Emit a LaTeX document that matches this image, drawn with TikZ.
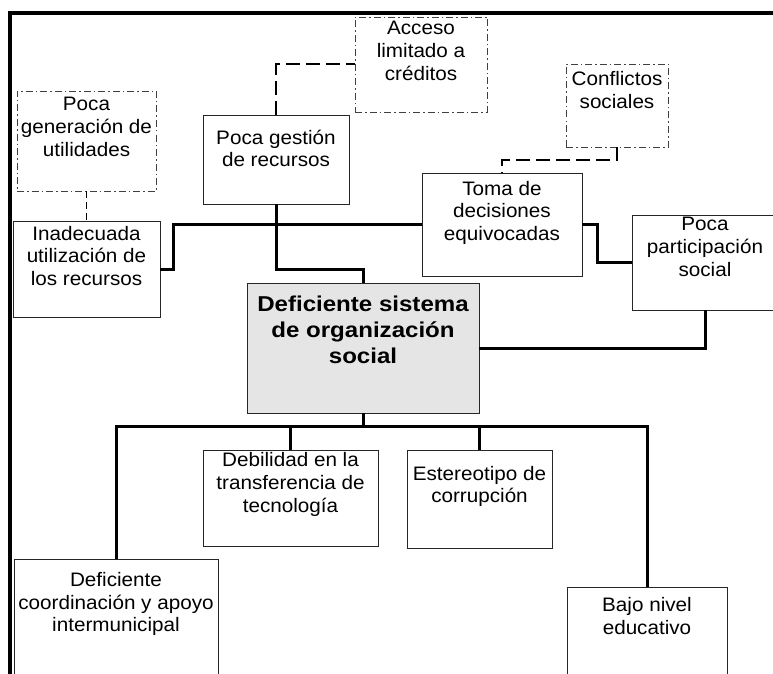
\documentclass[tikz,border=0pt]{standalone}
\usepackage{fontspec}
\setmainfont[FakeStretch=1.06]{Liberation Sans}
\newfontfamily\widebold[FakeStretch=1.12]{Liberation Sans}

\tikzset{
  box/.style n args={2}{draw=black!85, line width=0.9pt, rectangle, inner sep=0pt,
    minimum width=#1, minimum height=#2},
  dashbox/.style n args={2}{box={#1}{#2}, draw=black!75, line width=0.8pt,
    dash pattern=on 7pt off 3pt on 1.5pt off 3pt},
  mainbox/.style n args={2}{box={#1}{#2}, fill=gray!20},
  txt/.style={inner sep=0pt, align=center, anchor=north,
    font=\fontsize{19.5}{22.7}\selectfont,
    execute at begin node={\rule{0pt}{16pt}}},
  maintxt/.style={inner sep=0pt, align=center, anchor=north,
    font=\widebold\bfseries\fontsize{21.5}{26}\selectfont,
    execute at begin node={\rule{0pt}{18pt}}},
  link/.style={line width=3pt, black},
  dashlink/.style={line width=2pt, black, dash pattern=on 14pt off 6pt},
  thinlink/.style={line width=1.2pt, black, dash pattern=on 7pt off 4pt},
  frame/.style={line width=3.5pt, black}
}

\begin{document}
\begin{tikzpicture}[x=1pt, y=-1pt]
  \clip (0,0) rectangle (773,674);
  \fill[white] (0,0) rectangle (773,674);

  % outer frame
  \draw[frame] (10,690) -- (10,13) -- (790,13);

  % boxes
  \node[dashbox={139pt}{100pt}] (pgen) at (86.5,141) {};
  \node[dashbox={132pt}{95pt}]  (acc)  at (421,64.5) {};
  \node[dashbox={102pt}{83pt}]  (conf) at (617,105.5) {};
  \node[box={146pt}{89pt}]  (pges)  at (276,159.5) {};
  \node[box={147pt}{96pt}]  (inad)  at (86.5,269) {};
  \node[box={160pt}{103pt}] (toma)  at (502,224.5) {};
  \node[box={146pt}{95pt}]  (ppar)  at (705,262.5) {};
  \node[mainbox={232pt}{130pt}] (cent) at (363,348) {};
  \node[box={175pt}{96pt}]  (debil) at (290.5,498) {};
  \node[box={145pt}{98pt}]  (ester) at (479.5,499) {};
  \node[box={204pt}{130pt}] (coord) at (116,624) {};
  \node[box={160pt}{130pt}] (bajo)  at (647,652) {};

  % labels
  \node[txt] (pgen-t)  at (86.5,97)   {Poca\\generación de\\utilidades};
  \node[txt] (acc-t)   at (421,21)    {Acceso\\limitado a\\créditos};
  \node[txt] (conf-t)  at (617,71.3)  {Conflictos\\sociales};
  \node[txt] (pges-t)  at (276,129.7) {Poca gestión\\de recursos};
  \node[txt] (inad-t)  at (86.5,225.7) {Inadecuada\\utilización de\\los recursos};
  \node[txt] (toma-t)  at (502,180.7) {Toma de\\decisiones\\equivocadas};
  \node[txt] (ppar-t)  at (705,217.3) {Poca\\participación\\social};
  \node[maintxt] (cent-t) at (363,295.3) {Deficiente sistema\\de organización\\social};
  \node[txt] (debil-t) at (290.5,452.3) {Debilidad en la\\transferencia de\\tecnología};
  \node[txt] (ester-t) at (479.5,465.7) {Estereotipo de\\corrupción};
  \node[txt] (coord-t) at (116,572)   {Deficiente\\coordinación y apoyo\\intermunicipal};
  \node[txt] (bajo-t)  at (647,597)   {Bajo nivel\\educativo};

  % upper connectors
  \draw[link] (inad.east) -- ++(13,0) |- (toma.west);
  \draw[link] (pges.south) -- (pges.south |- inad.east) -| (cent.north);
  \draw[link] (toma.east) -- ++(15,0) |- (ppar.west);
  \draw[link] (cent.east) -| (ppar.south);

  % dashed links to the secondary causes
  \draw[dashlink] (pges.north) |- (acc.west);
  \draw[dashlink] (conf.south) -- ++(0,13) -| (toma.north);
  \draw[thinlink] (pgen.south) -- (inad.north);

  % lower bus
  \coordinate (bus) at (363,426);
  \draw[link] (cent.south) -- (bus);
  \draw[link] (coord.north) -- (coord.north |- bus) -- (bajo.north |- bus) -- (bajo.north);
  \draw[link] (debil.north) -- (debil.north |- bus);
  \draw[link] (ester.north) -- (ester.north |- bus);
\end{tikzpicture}
\end{document}
